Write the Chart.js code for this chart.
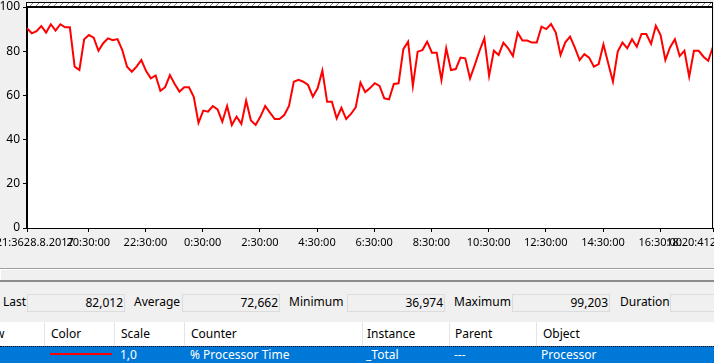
<!DOCTYPE html>
<html>
<head>
<meta charset="utf-8">
<title>% Processor Time</title>
<script src="https://cdn.jsdelivr.net/npm/chart.js@4.4.1/dist/chart.umd.min.js"></script>
<style>
  body { margin: 0; width: 714px; height: 363px; overflow: hidden; background: #f0f0f0;
         font-family: "Noto Sans", "Liberation Sans", sans-serif; font-size: 12px; color: #000; position: relative; }
  #graph { position: absolute; left: 0; top: 0; width: 714px; height: 268px; }
  .hline { position: absolute; left: 0; width: 714px; }
  .lbl { position: absolute; top: 293px; line-height: 18px; white-space: nowrap; }
  .box { position: absolute; top: 294px; height: 16px; border: 1px solid #dcdcdc; background: #f0f0f0;
         text-align: right; line-height: 16px; padding-right: 1px; box-sizing: content-box; overflow: hidden; }
  #table { position: absolute; left: 0; top: 322px; width: 714px; height: 41px; background: #fff; overflow: hidden; }
  .th { position: absolute; top: 0; height: 24px; line-height: 24px; border-right: 1px solid #e5e5e5;
        white-space: nowrap; overflow: hidden; box-sizing: border-box; }
  #row { position: absolute; left: 0; top: 24px; width: 714px; height: 17px; background: #0078d7; color: #fff;
         border-top: 1px dotted #000; box-sizing: border-box; }
  .td { position: absolute; top: -1px; line-height: 17px; white-space: nowrap; }
</style>
</head>
<body>
<div id="graph"><canvas id="cpuChart" width="714" height="268"></canvas></div>

<div class="hline" style="top:268px;height:1px;background:#a0a0a0"></div>
<div class="hline" style="top:269px;height:11px;background:#f0f0f0;border-top:1px solid #fff;border-left:1px solid #fff;box-sizing:border-box"></div>
<div class="hline" style="top:280px;height:2px;background:#8c8c8c"></div>

<div class="lbl" style="left:3px">Last</div>
<div class="box" style="left:27px;width:95px">82,012</div>
<div class="lbl" style="left:134px">Average</div>
<div class="box" style="left:182px;width:95px">72,662</div>
<div class="lbl" style="left:289px">Minimum</div>
<div class="box" style="left:347px;width:95px">36,974</div>
<div class="lbl" style="left:454px">Maximum</div>
<div class="box" style="left:512px;width:95px">99,203</div>
<div class="lbl" style="left:620px">Duration</div>
<div class="box" style="left:670px;width:60px"></div>

<div id="table">
  <div class="th" style="left:-26px;width:71px;padding-left:0">Show</div>
  <div class="th" style="left:44px;width:71px;padding-left:7px">Color</div>
  <div class="th" style="left:115px;width:70px;padding-left:6px">Scale</div>
  <div class="th" style="left:185px;width:178px;padding-left:6px">Counter</div>
  <div class="th" style="left:363px;width:87px;padding-left:4px">Instance</div>
  <div class="th" style="left:450px;width:87px;padding-left:5px">Parent</div>
  <div class="th" style="left:537px;width:177px;padding-left:6px;border-right:none">Object</div>
  <div id="row">
    <div style="position:absolute;left:50px;top:6px;width:62px;height:2px;background:#ff0000"></div>
    <div class="td" style="left:120px">1,0</div>
    <div class="td" style="left:190px">% Processor Time</div>
    <div class="td" style="left:366px">_Total</div>
    <div class="td" style="left:454px">---</div>
    <div class="td" style="left:541px">Processor</div>
  </div>
</div>

<script>
// log start / end (end is on the next day)
const startTime = "18:21:36";
const endTime = "18:20:41";
const startLabel = "18:21:3628.8.2017";
const endLabel = "18:20:4129.8.2017";

// time-axis ticks
const tickTimes = ["20:30:00", "22:30:00", "0:30:00", "2:30:00", "4:30:00", "6:30:00",
    "8:30:00", "10:30:00", "12:30:00", "14:30:00", "16:30:00"];

// % Processor Time samples, evenly spaced over the log
const cpuValues = [
    90.4, 88.1, 89.1, 91.4, 88.4, 92.2, 89.3, 92.2, 90.8, 90.8,
    73.0, 71.5, 85.4, 87.3, 86.1, 80.2, 83.6, 85.8, 85.0, 85.5,
    80.5, 73.0, 70.7, 73.0, 76.0, 71.0, 67.7, 69.0, 62.1, 63.7,
    69.2, 65.2, 61.7, 63.7, 63.7, 59.4, 47.6, 53.1, 52.6, 55.2,
    53.7, 48.1, 55.2, 46.6, 50.4, 47.1, 57.6, 48.6, 46.6, 50.4,
    55.2, 52.2, 49.3, 49.3, 51.1, 55.2, 66.2, 67.0, 66.2, 64.7,
    59.4, 63.2, 71.2, 57.1, 57.1, 49.6, 54.4, 49.3, 51.6, 54.6,
    65.8, 61.5, 63.3, 65.5, 64.3, 58.7, 58.2, 65.2, 65.5, 80.9,
    84.3, 64.3, 79.8, 80.5, 84.3, 79.3, 79.3, 67.0, 81.3, 71.5,
    71.9, 77.1, 76.8, 67.7, 73.8, 80.2, 85.8, 68.8, 80.2, 78.3,
    83.9, 81.3, 77.8, 88.4, 84.8, 84.8, 83.9, 83.9, 91.1, 90.0,
    92.3, 88.4, 78.3, 84.0, 86.6, 81.6, 76.0, 78.7, 77.1, 73.0,
    74.2, 83.1, 74.5, 66.2, 79.8, 83.9, 81.3, 85.4, 82.0, 87.8,
    87.8, 83.3, 91.5, 87.3, 76.0, 81.8, 85.4, 77.8, 80.2, 68.5,
    80.2, 80.2, 77.5, 75.7, 82.0
];

const yTicks = [0, 20, 40, 60, 80, 100];

function toSeconds(t) {
    const [h, m, s] = t.split(":").map(Number);
    return h * 3600 + m * 60 + s;
}
const startSec = toSeconds(startTime);
const sinceStart = (t) => (toSeconds(t) - startSec + 86400) % 86400;
const duration = sinceStart(endTime);
const step = duration / (cpuValues.length - 1);

const points = cpuValues.map((v, i) => ({ x: i * step, y: v }));
const xTickValues = [0, ...tickTimes.map(sinceStart), duration];
const xTickLabels = [startLabel, ...tickTimes, endLabel];

const tickFont = { family: "Noto Sans", size: 11 };

// white plot frame with hatched band above it
const perfFrame = {
    id: "perfFrame",
    beforeDraw(chart) {
        const { ctx, chartArea: a } = chart;
        ctx.save();
        ctx.fillStyle = "#ffffff";
        ctx.fillRect(a.left, 2, a.right - a.left, a.bottom - 2);
        ctx.beginPath();
        ctx.rect(a.left, 3, a.right - a.left, a.top - 3);
        ctx.clip();
        ctx.strokeStyle = "#8a8a8a";
        ctx.lineWidth = 1;
        for (let x = a.left - 10; x < a.right + 10; x += 6) {
            ctx.beginPath();
            ctx.moveTo(x, a.top);
            ctx.lineTo(x + 5, 2);
            ctx.stroke();
        }
        ctx.restore();
    },
    afterDraw(chart) {
        const { ctx, chartArea: a } = chart;
        ctx.save();
        ctx.strokeStyle = "#000";
        ctx.lineWidth = 1;
        ctx.strokeRect(a.left - 0.5, 2.5, a.right - a.left, a.bottom - 2);
        ctx.lineWidth = 2;
        ctx.beginPath();
        ctx.moveTo(a.left, a.top);
        ctx.lineTo(a.right, a.top);
        ctx.stroke();
        ctx.restore();
    },
};

new Chart(document.getElementById("cpuChart"), {
    type: "line",
    data: {
        datasets: [
            {
                label: "% Processor Time",
                data: points,
                borderColor: "#ff0000",
                borderWidth: 2,
                pointRadius: 0,
                tension: 0,
                fill: false,
            },
        ],
    },
    options: {
        responsive: false,
        animation: false,
        events: [],
        layout: { padding: { top: 7, right: 1, left: 0, bottom: 0 } },
        plugins: { legend: { display: false }, tooltip: { enabled: false } },
        scales: {
            x: {
                type: "linear",
                min: 0,
                max: duration,
                afterBuildTicks: (s) => { s.ticks = xTickValues.map((v) => ({ value: v })); },
                afterFit: (s) => { s.height = 40; s.paddingLeft = 0; s.paddingRight = 0; },
                ticks: {
                    autoSkip: false,
                    maxRotation: 0,
                    minRotation: 0,
                    padding: 4,
                    color: "#000",
                    font: tickFont,
                    callback: (v, i) => xTickLabels[i],
                },
                grid: { drawOnChartArea: false, drawTicks: true, tickLength: 4, color: "#000" },
                border: { color: "#000" },
            },
            y: {
                min: 0,
                max: 100,
                afterBuildTicks: (s) => { s.ticks = yTicks.map((v) => ({ value: v })); },
                afterFit: (s) => { s.width = 27; s.paddingTop = 0; s.paddingBottom = 0; },
                ticks: { padding: 3, color: "#000", font: { family: "Noto Sans", size: 12 } },
                grid: { drawOnChartArea: false, drawTicks: true, tickLength: 4, color: "#000" },
                border: { color: "#000" },
            },
        },
    },
    plugins: [perfFrame],
});
</script>
</body>
</html>
